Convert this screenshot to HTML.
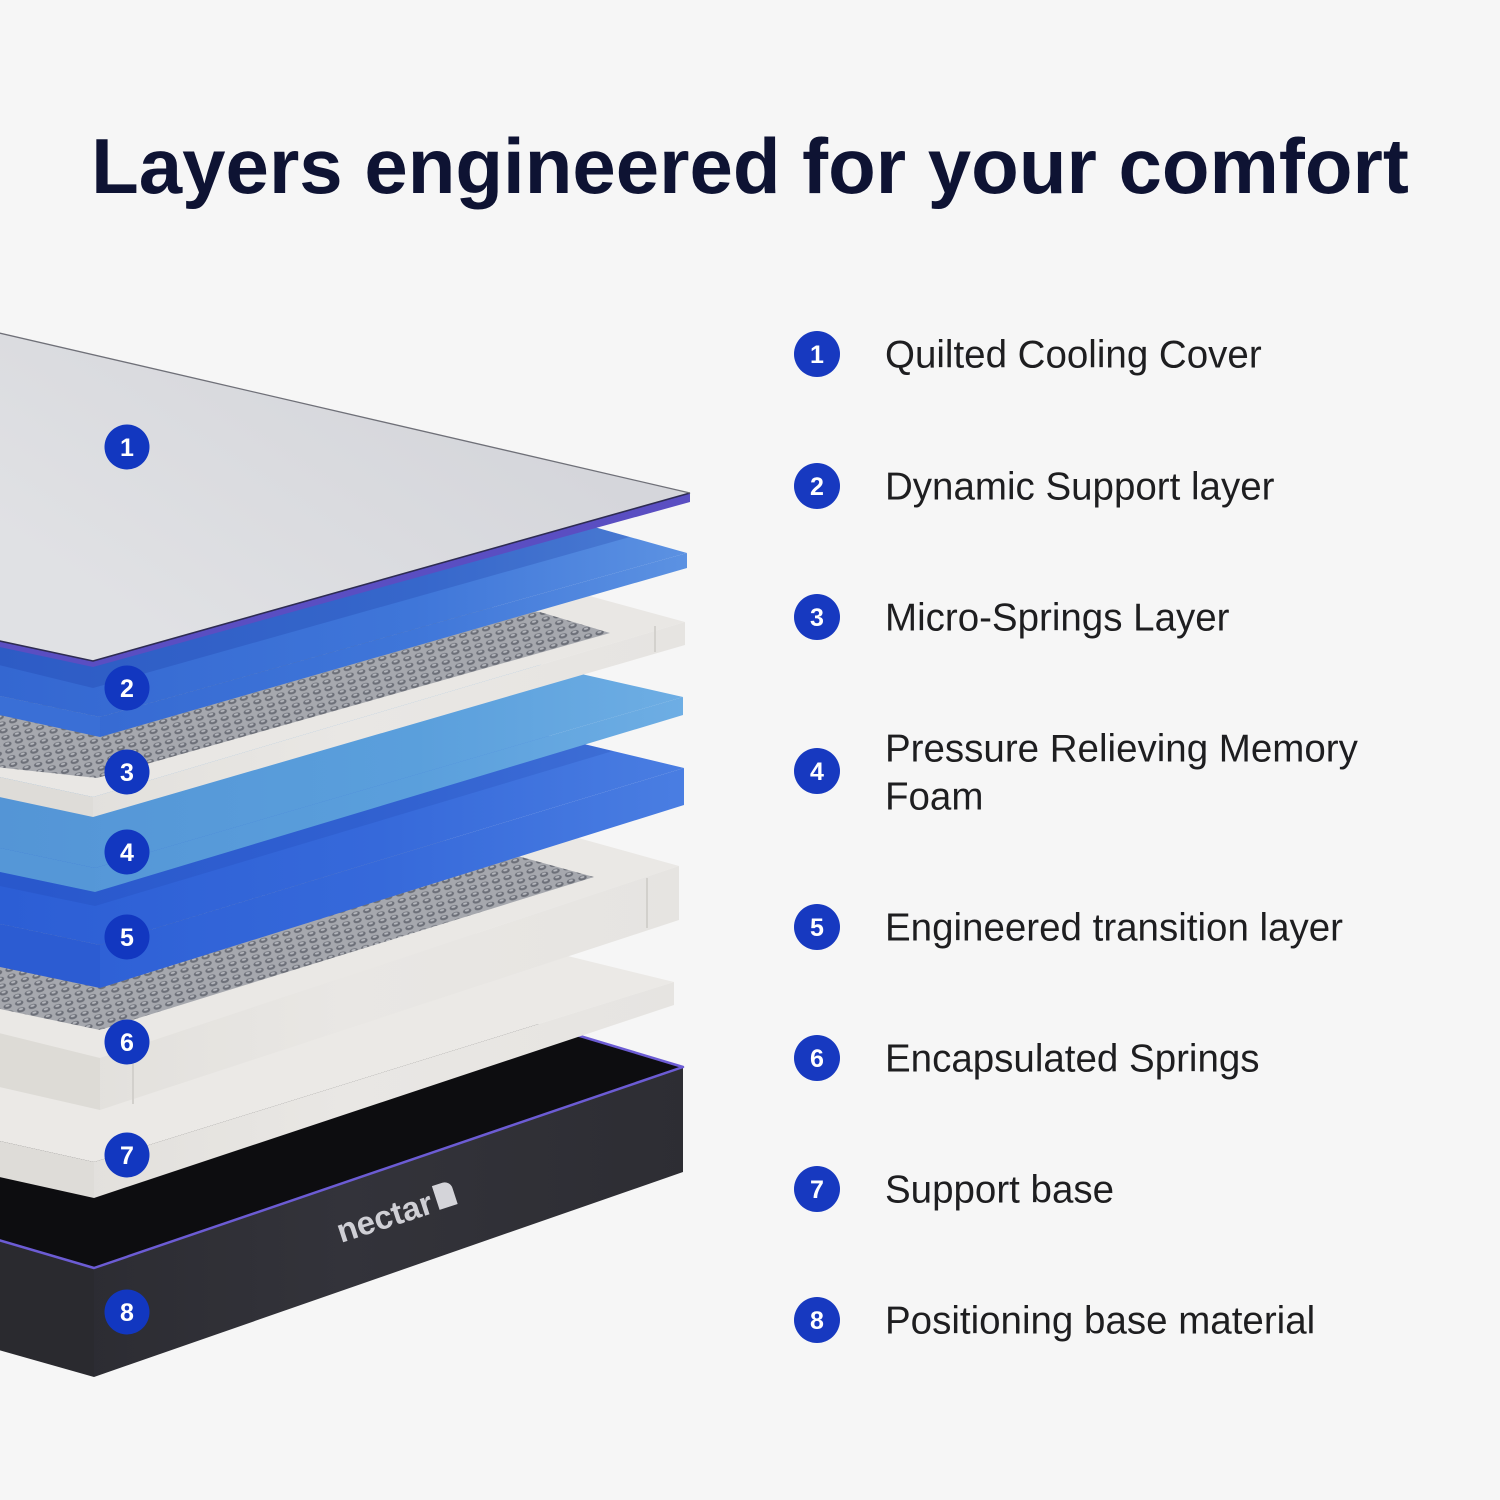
<!DOCTYPE html>
<html>
<head>
<meta charset="utf-8">
<style>
html,body{margin:0;padding:0;background:#f6f6f6;}
svg{display:block;}
</style>
</head>
<body>
<svg width="1500" height="1500" viewBox="0 0 1500 1500" xmlns="http://www.w3.org/2000/svg">
<defs>
  <linearGradient id="gSheet" gradientUnits="userSpaceOnUse" x1="400" y1="350" x2="200" y2="660">
    <stop offset="0" stop-color="#d5d6db"/>
    <stop offset="1" stop-color="#e0e1e4"/>
  </linearGradient>
  <linearGradient id="gB2" gradientUnits="userSpaceOnUse" x1="0" y1="0" x2="690" y2="0">
    <stop offset="0" stop-color="#3467d1"/>
    <stop offset="0.6" stop-color="#3f76d9"/>
    <stop offset="1" stop-color="#5c92e2"/>
  </linearGradient>
  <linearGradient id="gB4" gradientUnits="userSpaceOnUse" x1="0" y1="0" x2="690" y2="0">
    <stop offset="0" stop-color="#5495d6"/>
    <stop offset="0.6" stop-color="#5a9fdc"/>
    <stop offset="1" stop-color="#6eaee4"/>
  </linearGradient>
  <linearGradient id="gB5" gradientUnits="userSpaceOnUse" x1="0" y1="0" x2="690" y2="0">
    <stop offset="0" stop-color="#2c5ed5"/>
    <stop offset="0.55" stop-color="#3669da"/>
    <stop offset="1" stop-color="#4a7ee2"/>
  </linearGradient>
  <linearGradient id="gW" gradientUnits="userSpaceOnUse" x1="0" y1="0" x2="690" y2="0">
    <stop offset="0" stop-color="#e0deda"/>
    <stop offset="0.5" stop-color="#e9e7e4"/>
    <stop offset="1" stop-color="#e6e4e1"/>
  </linearGradient>
  <linearGradient id="gBox" gradientUnits="userSpaceOnUse" x1="0" y1="0" x2="690" y2="0">
    <stop offset="0" stop-color="#2a2a30"/>
    <stop offset="0.5" stop-color="#33333a"/>
    <stop offset="1" stop-color="#2d2d33"/>
  </linearGradient>
  <pattern id="spr" width="12" height="7" patternUnits="userSpaceOnUse" patternTransform="rotate(-16)">
    <rect width="12" height="7" fill="#a6a8ae"/>
    <ellipse cx="6" cy="3.5" rx="4.3" ry="2.4" fill="#6c6f78"/>
    <ellipse cx="6" cy="2.7" rx="2.2" ry="1" fill="#b5b7bd"/>
  </pattern>
  <clipPath id="clipL2">
    <polygon points="-5,359 687,553 687,568 100,737 -5,714"/>
  </clipPath>
  <clipPath id="clipL5">
    <polygon points="-5,603 684,768 684,805 100,988 -5,966"/>
  </clipPath>
</defs>

<rect width="1500" height="1500" fill="#f6f6f6"/>

<!-- Title -->
<text x="750" y="193" text-anchor="middle" font-family="'Liberation Sans', sans-serif" font-size="78" font-weight="700" fill="#0e1333">Layers engineered for your comfort</text>

<!-- ===== Layer 8 : box ===== -->
<polygon points="-5,1239 94,1268 683,1067 -5,863" fill="#0d0d10"/>
<polygon points="94,1268 683,1067 683,1172 94,1377" fill="url(#gBox)"/>
<polygon points="-5,1239 94,1268 94,1377 -5,1349" fill="#2a2a2f"/>
<polyline points="-5,1239 94,1268 683,1067 560,1030" fill="none" stroke="#6c5cd4" stroke-width="2.5" stroke-linejoin="round"/>
<g transform="translate(341,1243) rotate(-18)">
  <text x="0" y="0" font-family="'Liberation Sans', sans-serif" font-size="33" font-weight="700" fill="#cfcfd5">nectar</text>
  <path d="M104,-1 v-25 h11 a8,8 0 0 1 8,8 v17 z" fill="#d4d4d9"/>
</g>

<!-- ===== Layer 7 : support base ===== -->
<polygon points="-5,816 674,982 94,1162 -5,1140" fill="#ebe9e6"/>
<polygon points="674,982 674,1005 94,1198 94,1162" fill="url(#gW)"/>
<polygon points="94,1162 94,1198 -5,1176 -5,1140" fill="#dedcd8"/>

<!-- ===== Layer 6 : encapsulated springs ===== -->
<polygon points="-5,676 679,866 100,1058 -5,1032" fill="#eae8e5"/>
<polygon points="-5,1008 100,1030 594,877 470,843 -5,800" fill="url(#spr)"/>
<polygon points="679,866 679,920 100,1110 100,1058" fill="url(#gW)"/>
<polygon points="100,1058 100,1110 -5,1086 -5,1032" fill="#dddbd6"/>
<line x1="133" y1="1062" x2="133" y2="1104" stroke="#d2d0cc" stroke-width="2"/>
<line x1="647" y1="878" x2="647" y2="928" stroke="#d2d0cc" stroke-width="2"/>

<!-- ===== Layer 5 : transition (blue) ===== -->
<polygon points="-5,603 684,768 100,945 -5,923" fill="url(#gB5)"/>
<polygon points="684,768 684,805 100,988 100,945" fill="url(#gB5)"/>
<polygon points="100,945 100,988 -5,966 -5,923" fill="#2c5cd2"/>

<!-- ===== Layer 4 : memory foam (light blue) ===== -->
<polygon points="-5,541 683,697 95,868 -5,847" fill="url(#gB4)"/>
<polygon points="683,697 683,715 95,892 95,868" fill="url(#gB4)"/>
<polygon points="95,868 95,892 -5,871 -5,847" fill="#5597d7"/>
<!-- shadow on layer 5 under layer 4 (clipped) -->
<g clip-path="url(#clipL5)">
  <polygon points="683,715 95,892 -5,871 -5,885 95,906 683,730" fill="#1b3fa8" opacity="0.18"/>
</g>

<!-- ===== Layer 3 : micro springs ===== -->
<polygon points="-5,434 685,622 93,797 -5,776" fill="#e9e7e4"/>
<polygon points="-5,767 97,778 610,633 540,612 -5,560" fill="url(#spr)"/>
<polygon points="685,622 685,645 93,817 93,797" fill="url(#gW)"/>
<polygon points="93,797 93,817 -5,796 -5,776" fill="#dedcd8"/>
<line x1="655" y1="626" x2="655" y2="652" stroke="#d3d1cd" stroke-width="2"/>

<!-- ===== Layer 2 : dynamic support (blue) ===== -->
<polygon points="-5,359 687,553 100,717 -5,695" fill="url(#gB2)"/>
<polygon points="687,553 687,568 100,737 100,717" fill="url(#gB2)"/>
<polygon points="100,717 100,737 -5,714 -5,695" fill="#3a6fd6"/>

<!-- ===== Layer 1 : cover ===== -->
<polygon points="-5,332 690,493 93,661 -5,640" fill="url(#gSheet)"/>
<polygon points="690,493 690,502 93,667 -5,646 -5,640 93,661" fill="#5a4ec2"/>
<polyline points="690,493 93,661 -5,640" fill="none" stroke="#2e2c52" stroke-width="1.6" stroke-linejoin="round"/>
<line x1="-5" y1="332" x2="690" y2="493" stroke="#6f7078" stroke-width="1.3"/>
<!-- shadow of cover on layer 2 (clipped) -->
<g clip-path="url(#clipL2)">
  <polygon points="690,502 93,667 -5,646 -5,664 93,688 690,520" fill="#15309a" opacity="0.22"/>
</g>

<!-- Left number badges -->
<g font-family="'Liberation Sans', sans-serif" font-size="25" font-weight="700" fill="#ffffff" text-anchor="middle">
  <circle cx="127" cy="447" r="22.5" fill="#1237c0"/><text x="127" y="456">1</text>
  <circle cx="127" cy="688" r="22.5" fill="#1237c0"/><text x="127" y="697">2</text>
  <circle cx="127" cy="772" r="22.5" fill="#1237c0"/><text x="127" y="781">3</text>
  <circle cx="127" cy="852" r="22.5" fill="#1237c0"/><text x="127" y="861">4</text>
  <circle cx="127" cy="937" r="22.5" fill="#1237c0"/><text x="127" y="946">5</text>
  <circle cx="127" cy="1042" r="22.5" fill="#1237c0"/><text x="127" y="1051">6</text>
  <circle cx="127" cy="1155" r="22.5" fill="#1237c0"/><text x="127" y="1164">7</text>
  <circle cx="127" cy="1312" r="22.5" fill="#1237c0"/><text x="127" y="1321">8</text>
</g>

<!-- Right list badges -->
<g font-family="'Liberation Sans', sans-serif" font-size="25" font-weight="700" fill="#ffffff" text-anchor="middle">
  <circle cx="817" cy="354" r="23" fill="#1739c0"/><text x="817" y="363">1</text>
  <circle cx="817" cy="486" r="23" fill="#1739c0"/><text x="817" y="495">2</text>
  <circle cx="817" cy="617" r="23" fill="#1739c0"/><text x="817" y="626">3</text>
  <circle cx="817" cy="771" r="23" fill="#1739c0"/><text x="817" y="780">4</text>
  <circle cx="817" cy="927" r="23" fill="#1739c0"/><text x="817" y="936">5</text>
  <circle cx="817" cy="1058" r="23" fill="#1739c0"/><text x="817" y="1067">6</text>
  <circle cx="817" cy="1189" r="23" fill="#1739c0"/><text x="817" y="1198">7</text>
  <circle cx="817" cy="1320" r="23" fill="#1739c0"/><text x="817" y="1329">8</text>
</g>

<!-- Right list labels -->
<g font-family="'Liberation Sans', sans-serif" font-size="38.5" fill="#1e1e20">
  <text x="885" y="367.5">Quilted Cooling Cover</text>
  <text x="885" y="499.5">Dynamic Support layer</text>
  <text x="885" y="630.5">Micro-Springs Layer</text>
  <text x="885" y="761.5">Pressure Relieving Memory</text>
  <text x="885" y="809.5">Foam</text>
  <text x="885" y="940.5">Engineered transition layer</text>
  <text x="885" y="1071.5">Encapsulated Springs</text>
  <text x="885" y="1202.5">Support base</text>
  <text x="885" y="1333.5">Positioning base material</text>
</g>
</svg>
</body>
</html>
